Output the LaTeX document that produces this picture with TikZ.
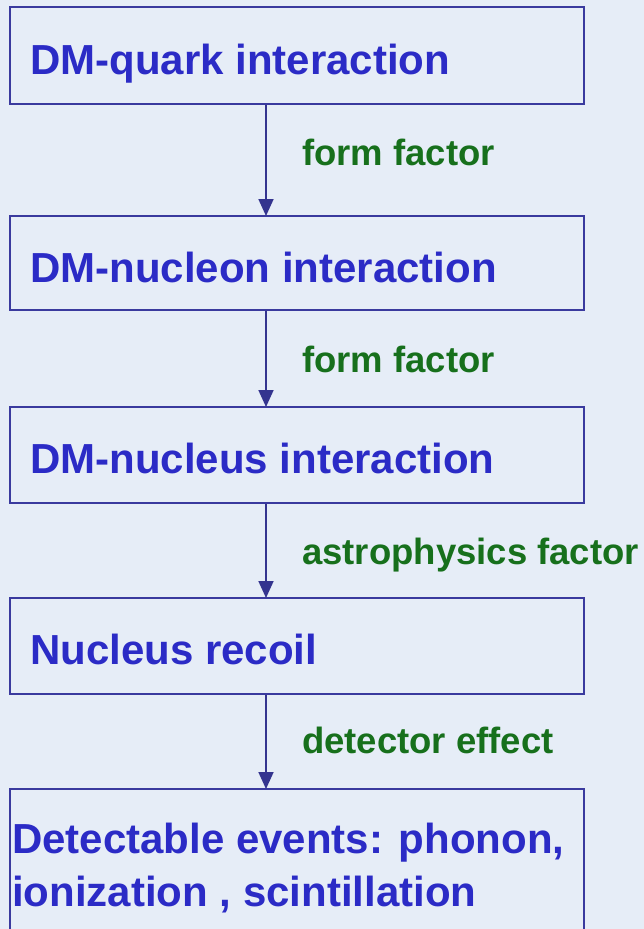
\documentclass[tikz,border=0pt]{standalone}
\usepackage{fontspec}
\setmainfont{Liberation Sans}
\usetikzlibrary{arrows.meta}
\definecolor{bgc}{HTML}{E6EDF7}
\definecolor{boxline}{HTML}{3A3A9E}
\definecolor{boxtext}{HTML}{2B2BC6}
\definecolor{labgreen}{HTML}{17701C}
\definecolor{arrcol}{HTML}{34348F}
\tikzset{
  stagebox/.style={draw=boxline, line width=2pt, minimum width=574pt, inner sep=0pt},
  stagetext/.style={anchor=base west, inner sep=0pt, text=boxtext, font=\fontsize{42}{52}\selectfont\bfseries},
  steplabel/.style={anchor=base west, inner sep=0pt, text=labgreen, font=\fontsize{36.5}{44}\selectfont\bfseries},
  flow/.style={draw=arrcol, line width=1.8pt, -{Triangle[length=17pt,width=15pt]}, shorten >=-1pt}
}
\begin{document}
\begin{tikzpicture}[x=1pt,y=-1pt]
\useasboundingbox (0,0) rectangle (644,929);
\clip (0,0) rectangle (644,929);
\fill[bgc] (0,0) rectangle (644,929);
\coordinate (ax) at (266,0);
% boxes
\node[stagebox, minimum height=97pt] (b1) at (297,55.5) {};
\node[stagebox, minimum height=94pt] (b2) at (297,263) {};
\node[stagebox, minimum height=96pt] (b3) at (297,455) {};
\node[stagebox, minimum height=96pt] (b4) at (297,646) {};
\node[stagebox, minimum height=171pt] (b5) at (297,874.5) {};
% box texts
\node[stagetext] (t1) at (30,74) {DM-quark interaction};
\node[stagetext] (t2) at (30,282) {DM-nucleon interaction};
\node[stagetext] (t3) at (30,473) {DM-nucleus interaction};
\node[stagetext] (t4) at (30,664) {Nucleus recoil};
\node[stagetext] (t5a) at (12,853) {Detectable events: phonon,};
\node[stagetext] (t5b) at (12,906) {ionization , scintillation};
% arrows
\draw[flow] (b1.south -| ax) -- (b2.north -| ax);
\draw[flow] (b2.south -| ax) -- (b3.north -| ax);
\draw[flow] (b3.south -| ax) -- (b4.north -| ax);
\draw[flow] (b4.south -| ax) -- (b5.north -| ax);
% labels
\node[steplabel] (l1) at (302,165) {form factor};
\node[steplabel] (l2) at (302,372) {form factor};
\node[steplabel] (l3) at (302,564) {astrophysics factor};
\node[steplabel] (l4) at (302,753) {detector effect};
\end{tikzpicture}
\end{document}
